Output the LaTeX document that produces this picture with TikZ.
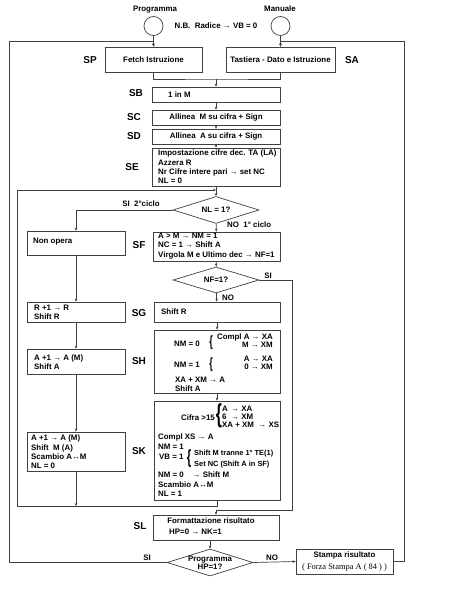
\documentclass[tikz,border=0pt]{standalone}
\usepackage{fontspec}
\setmainfont{Liberation Sans}
\newfontfamily\serifB{Liberation Serif}
\usepackage{graphicx}
\usetikzlibrary{shapes.geometric,arrows.meta}
\definecolor{lc}{gray}{0.25}
\newcommand\brc[1]{\scalebox{0.6}[1]{\fontsize{#1}{#1}\selectfont\bfseries\{}}
\begin{document}
\begin{tikzpicture}[x=1pt,y=-1pt,
 box/.style={draw=lc, line width=0.7pt, rectangle, inner sep=0pt},
 dia/.style={draw=lc, line width=0.7pt, diamond, inner sep=0pt},
 circ/.style={draw=lc, line width=0.7pt, circle, inner sep=0pt, minimum size=19pt},
 txt/.style={font=\fontsize{7.9}{9.3}\selectfont\bfseries, inner sep=0pt, align=left},
 stxt/.style={font=\fontsize{7.4}{9}\selectfont\bfseries, inner sep=0pt},
 lab/.style={font=\fontsize{10}{11}\selectfont\bfseries, inner sep=0pt},
 ln/.style={draw=lc, line width=0.7pt},
 arr/.style={ln, -{Stealth[length=3pt,width=2.6pt]}}]
\useasboundingbox (0,0) rectangle (467,599);
% top
\node[txt] (tprog) at (155,10) {Programma};
\node[txt] (tman) at (280,9) {Manuale};
\node[circ] (progC) at (153.5,26) {};
\node[circ] (manC) at (280.5,26) {};
\node[txt] (nb) at (216,26) {N.B.~~Radice → VB = 0};
% boxes
\node[box, minimum width=97pt, minimum height=25pt, txt] (sp) at (153.5,59.5) {Fetch Istruzione};
\node[box, minimum width=109pt, minimum height=25pt, txt] (sa) at (280.5,59.5) {Tastiera - Dato e Istruzione};
\node[box, minimum width=128pt, minimum height=15pt] (sb) at (216,94.5) {};
\node[box, minimum width=128pt, minimum height=15pt, txt] (sc) at (216,117.5) {Allinea~ M su cifra + Sign};
\node[box, minimum width=128pt, minimum height=15pt, txt] (sd) at (216,136.5) {Allinea~ A su cifra + Sign};
\node[box, minimum width=128pt, minimum height=38pt] (se) at (216,167) {};
\node[dia, minimum width=86pt, minimum height=27pt] (nl) at (216,210) {};
\node[box, minimum width=98pt, minimum height=24pt] (nonop) at (76,243) {};
\node[box, minimum width=127pt, minimum height=29pt] (sf) at (216.5,246.5) {};
\node[dia, minimum width=86pt, minimum height=26pt] (nf) at (216,280) {};
\node[box, minimum width=98pt, minimum height=20pt] (rplus) at (76,312) {};
\node[box, minimum width=126pt, minimum height=20pt] (sg) at (217,312) {};
\node[box, minimum width=98pt, minimum height=25pt] (aplus) at (76,361.5) {};
\node[box, minimum width=126pt, minimum height=63pt] (sh) at (217,361.5) {};
\node[box, minimum width=98pt, minimum height=39pt] (ak) at (76,451.5) {};
\node[box, minimum width=126pt, minimum height=99pt] (sk) at (217,450.5) {};
\node[box, minimum width=126pt, minimum height=25pt] (sl) at (216,527.5) {};
\node[dia, minimum width=86pt, minimum height=27pt] (hp) at (210,562.5) {};
\node[box, minimum width=97pt, minimum height=25pt] (stampa) at (344.5,561.5) {};
% state labels
\node[lab] (lSP) at (90,60) {SP};
\node[lab] (lSA) at (352,60) {SA};
\node[lab] (lSB) at (136,93) {SB};
\node[lab] (lSC) at (134,117) {SC};
\node[lab] (lSD) at (134,136) {SD};
\node[lab] (lSE) at (132,167) {SE};
\node[lab] (lSF) at (139,245) {SF};
\node[lab] (lSG) at (139,313) {SG};
\node[lab] (lSH) at (139,361) {SH};
\node[lab] (lSK) at (139,451) {SK};
\node[lab] (lSL) at (140,526) {SL};
% box texts
\node[txt, anchor=west] (tsb) at (168,94.5) {1 in M};
\node[txt, anchor=west] (tse) at (158,167) {Impostazione cifre dec. TA (LA)\\Azzera R\\Nr Cifre intere pari → set NC\\NL = 0};
\node[txt] (tnl) at (216,210) {NL = 1?};
\node[txt, anchor=west] (tnon) at (33,242) {Non opera};
\node[txt, anchor=west] (tsf) at (158,246) {A > M → NM = 1\\NC = 1 → Shift A\\Virgola M e Ultimo dec → NF=1};
\node[txt] (tnf) at (216,280) {NF=1?};
\node[txt, anchor=west] (trp) at (34,312) {R +1 → R\\Shift R};
\node[txt, anchor=west] (tsg) at (161,312) {Shift R};
\node[txt, anchor=west] (tap) at (34,362) {A +1 → A (M)\\Shift A};
% SH contents
\node[txt] (sh1) at (187,344) {NM = 0};
\node[inner sep=0pt] (shb1) at (211,343) {\brc{15}};
\node[txt, anchor=east] (sh2) at (273,337) {Compl A → XA};
\node[txt, anchor=east] (sh3) at (273,345) {M → XM};
\node[txt] (sh4) at (187,365) {NM = 1};
\node[inner sep=0pt] (shb2) at (211,365) {\brc{15}};
\node[txt, anchor=east] (sh5) at (273,359) {A → XA};
\node[txt, anchor=east] (sh6) at (273,367) {0 → XM};
\node[txt, anchor=west] (sh7) at (175,384) {XA + XM → A\\Shift A};
% SK left
\node[txt, anchor=west] (tak) at (31,452) {A +1 → A (M)\\Shift~ M (A)\\Scambio A↔M\\NL = 0};
% SK contents
\node[txt, anchor=east] (sk1) at (215,418) {Cifra >15};
\node[inner sep=0pt] (skb1) at (219,416) {\brc{26}};
\node[txt, anchor=west] (sk2) at (222,409) {\makebox[9pt][l]{A}→ XA};
\node[txt, anchor=west] (sk3) at (222,417) {\makebox[9pt][l]{6}→ XM};
\node[txt, anchor=west] (sk4) at (222,425) {XA + XM~ → XS};
\node[txt, anchor=west] (sk5) at (158,437) {Compl XS → A};
\node[txt, anchor=west] (sk6) at (158,447) {NM = 1};
\node[txt, anchor=west] (sk7) at (159,457) {VB = 1};
\node[inner sep=0pt] (skb2) at (189,459) {\brc{19}};
\node[stxt, anchor=west] (sk8) at (194,453.6) {Shift M tranne 1° TE(1)};
\node[stxt, anchor=west] (sk9) at (194,465) {Set NC (Shift A in SF)};
\node[txt, anchor=west] (sk10) at (158,475) {NM = 0~~~ → Shift M};
\node[txt, anchor=west] (sk11) at (158,484.5) {Scambio A↔M};
\node[txt, anchor=west] (sk12) at (158,493.5) {NL = 1};
% SL, HP, stampa
\node[txt] (sl1) at (211,521) {Formattazione risultato};
\node[txt, anchor=west] (sl2) at (169,532) {HP=0 → NK=1};
\node[txt, align=center] (thp) at (210,563) {Programma\\[-1.5pt]HP=1?};
\node[txt] (st1) at (344.5,555) {Stampa risultato};
\node[inner sep=0pt, font=\serifB\fontsize{8.4}{9}\selectfont] (st2) at (344.5,567) {( Forza Stampa A ( 84 ) )};
% connector labels
\node[txt] (siA) at (141,204) {SI~ 2°ciclo};
\node[txt, anchor=west] (noA) at (227,225) {NO~ 1° ciclo};
\node[txt] (siB) at (268,276) {SI};
\node[txt, anchor=west] (noB) at (222,298) {NO};
\node[txt] (siC) at (147,558) {SI};
\node[txt] (noC) at (272,558) {NO};
% coordinates
\coordinate (tl) at (9,41);
\coordinate (tr) at (404,41);
\coordinate (mg) at (216,79);
\coordinate (lpA) at (17,190);
\coordinate (lpJ) at (216,190);
\coordinate (lpB) at (17,506);
\coordinate (nfR) at (292,510);
% connectors
\draw[arr] (progC) -- (sp);
\draw[arr] (manC) -- (sa);
\draw[arr] (hp.west) -| (tl) -| (sp.north);
\draw[arr] (stampa.east) -| (tr) -| (sa.north);
\draw[ln] (sp.south) |- (mg) -| (sa.south);
\draw[arr] (mg) -- (sb);
\draw[arr] (sb) -- (sc);
\draw[arr] (sc) -- (sd);
\draw[arr] (sd) -- (se);
\draw[arr] (se) -- (nl);
\draw[arr] (lpB) -- (lpA) -- (lpJ);
\draw[ln] (sk.south) |- (lpB);
\draw[arr] (ak.south) -- (ak.south |- lpB);
\draw[arr] (nl.west) -| (nonop.north);
\draw[arr] (nl) -- (sf);
\draw[arr] (sf) -- (nf);
\draw[arr] (nf) -- (sg);
\draw[arr] (nf.east) -| (nfR) -| (sl.north);
\draw[arr] (nonop) -- (rplus);
\draw[arr] (rplus) -- (aplus);
\draw[arr] (aplus) -- (ak);
\draw[arr] (sg) -- (sh);
\draw[arr] (sh) -- (sk);
\draw[arr] (sl.south -| hp.north) -- (hp.north);
\draw[arr] (hp.east) -- (stampa.west);
\end{tikzpicture}
\end{document}
